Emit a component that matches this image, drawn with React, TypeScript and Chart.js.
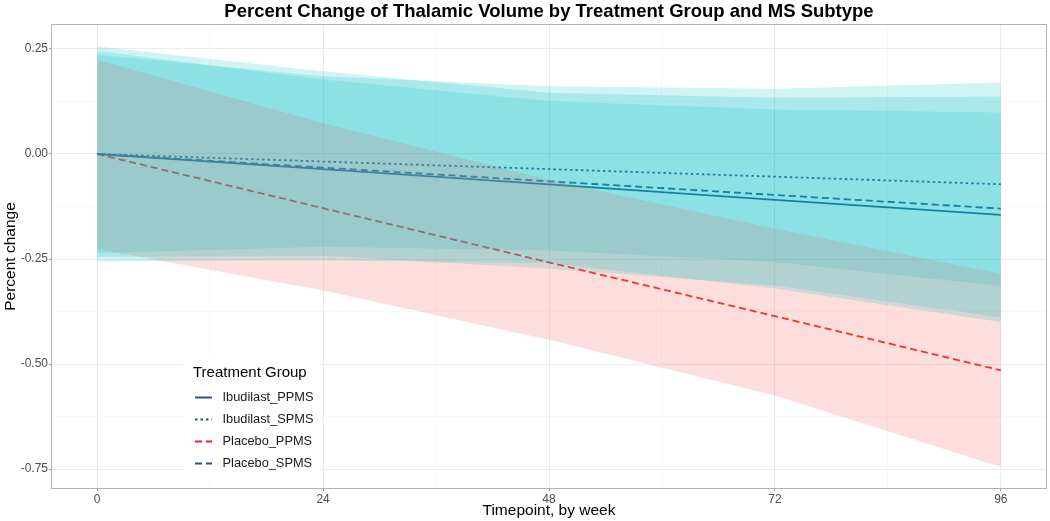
import React, { useEffect, useRef } from 'react';
import { Chart, registerables } from 'chart.js';
Chart.register(...registerables);

// ---- data ----
const weeks = [0, 24, 48, 72, 96];
const seriesNames = ['Ibudilast_PPMS', 'Ibudilast_SPMS', 'Placebo_PPMS', 'Placebo_SPMS'];

const ibuPPMS = [0, -0.036, -0.0725, -0.109, -0.145];
const ibuSPMS = [0, -0.018, -0.036, -0.054, -0.072];
const plaPPMS = [0, -0.129, -0.258, -0.386, -0.515];
const plaSPMS = [0, -0.0325, -0.065, -0.0975, -0.13];

const ibuPPMSLow = [-0.245, -0.242, -0.273, -0.313, -0.389];
const ibuPPMSHigh = [0.245, 0.177, 0.126, 0.106, 0.099];
const ibuSPMSLow = [-0.236, -0.221, -0.23, -0.257, -0.314];
const ibuSPMSHigh = [0.236, 0.185, 0.161, 0.155, 0.17];
const plaPPMSLow = [-0.226, -0.325, -0.442, -0.575, -0.745];
const plaPPMSHigh = [0.224, 0.073, -0.062, -0.178, -0.285];
const plaSPMSLow = [-0.256, -0.253, -0.26, -0.32, -0.4];
const plaSPMSHigh = [0.256, 0.197, 0.146, 0.134, 0.137];

const xMajorTicks = [0, 24, 48, 72, 96];
const xGridTicks = [0, 12, 24, 36, 48, 60, 72, 84, 96];
const yMajorTicks = [0.25, 0, -0.25, -0.5, -0.75];
const yGridTicks = [0.25, 0.125, 0, -0.125, -0.25, -0.375, -0.5, -0.625, -0.75];

const title = 'Percent Change of Thalamic Volume by Treatment Group and MS Subtype';
const xTitle = 'Timepoint, by week';
const yTitle = 'Percent change';
const legendTitle = 'Treatment Group';

const BLUE = '#2a4d8c';
const RED = '#f21d1d';
const TEAL_FILL = 'rgba(0,188,194,0.185)';
const PINK_FILL = 'rgba(248,118,109,0.24)';
const FONT = '"Liberation Sans", Arial, Helvetica, sans-serif';

const lineStyles = [
  { color: BLUE, dash: [] as number[] },
  { color: BLUE, dash: [2.5, 3] },
  { color: RED, dash: [7, 4] },
  { color: BLUE, dash: [7, 4] },
];

const pts = (ys: number[]) => weeks.map((w, i) => ({ x: w, y: ys[i] }));

function ribbon(low: number[], high: number[], fill: string) {
  return [
    { data: pts(low), borderWidth: 0, pointRadius: 0, fill: false, backgroundColor: 'rgba(0,0,0,0)', borderColor: 'rgba(0,0,0,0)' },
    { data: pts(high), borderWidth: 0, pointRadius: 0, fill: '-1', backgroundColor: fill, borderColor: 'rgba(0,0,0,0)' },
  ];
}

const decoPlugin = {
  id: 'deco',
  afterDraw(chart: any) {
    const ctx = chart.ctx;
    const a = chart.chartArea;
    ctx.save();
    // panel border
    ctx.strokeStyle = '#b3b3b3';
    ctx.lineWidth = 1;
    ctx.strokeRect(a.left - 0.5, a.top - 0.5, a.right - a.left + 1, a.bottom - a.top + 1);
    // title
    ctx.fillStyle = '#000';
    ctx.textAlign = 'center';
    ctx.textBaseline = 'middle';
    ctx.font = `bold 18.5px ${FONT}`;
    ctx.fillText(title, (a.left + a.right) / 2, 12);
    // x title
    ctx.font = `15.5px ${FONT}`;
    ctx.fillText(xTitle, (a.left + a.right) / 2, 511);
    // y title
    ctx.save();
    ctx.translate(11, (a.top + a.bottom) / 2);
    ctx.rotate(-Math.PI / 2);
    ctx.fillText(yTitle, 0, 0);
    ctx.restore();
    // legend
    ctx.fillStyle = '#fff';
    ctx.fillRect(183, 356, 138, 122);
    ctx.fillStyle = '#000';
    ctx.textAlign = 'left';
    ctx.font = `15px ${FONT}`;
    ctx.fillText(legendTitle, 193, 372.5);
    ctx.font = `12.8px ${FONT}`;
    seriesNames.forEach((name, i) => {
      const y = 397.5 + i * 22;
      const st = lineStyles[i];
      ctx.strokeStyle = st.color;
      ctx.lineWidth = 2;
      ctx.setLineDash(st.dash);
      ctx.beginPath();
      ctx.moveTo(195, y);
      ctx.lineTo(212, y);
      ctx.stroke();
      ctx.setLineDash([]);
      ctx.fillStyle = '#1a1a1a';
      ctx.fillText(name, 222.5, y);
    });
    ctx.restore();
  },
};

export default function App() {
  const ref = useRef<HTMLCanvasElement | null>(null);
  useEffect(() => {
    if (!ref.current) return;
    const lines = [ibuPPMS, ibuSPMS, plaPPMS, plaSPMS].map((s, i) => ({
      data: pts(s),
      borderColor: lineStyles[i].color,
      borderDash: lineStyles[i].dash,
      borderWidth: 1.8,
      pointRadius: 0,
      fill: false,
      order: 10,
    }));
    const datasets: any[] = [
      ...ribbon(plaSPMSLow, plaSPMSHigh, TEAL_FILL),
      ...ribbon(plaPPMSLow, plaPPMSHigh, PINK_FILL),
      ...ribbon(ibuSPMSLow, ibuSPMSHigh, TEAL_FILL),
      ...ribbon(ibuPPMSLow, ibuPPMSHigh, TEAL_FILL),
      ...lines,
    ];
    const chart = new Chart(ref.current, {
      type: 'line',
      data: { datasets },
      plugins: [decoPlugin],
      options: {
        animation: false,
        responsive: false,
        events: [],
        layout: { padding: { top: 25, right: 4, left: 0, bottom: 0 } },
        plugins: { legend: { display: false }, tooltip: { enabled: false }, title: { display: false } },
        scales: {
          x: {
            type: 'linear',
            min: -4.8,
            max: 100.8,
            afterBuildTicks: (s: any) => { s.ticks = xGridTicks.map((v) => ({ value: v })); },
            afterFit: (s: any) => { s.height = 33; },
            border: { display: false },
            grid: {
              color: (c: any) => (xMajorTicks.includes(c.tick?.value) ? '#ebebeb' : '#f4f4f4'),
              lineWidth: (c: any) => (xMajorTicks.includes(c.tick?.value) ? 1 : 0.6),
              tickColor: (c: any) => (xMajorTicks.includes(c.tick?.value) ? '#9a9a9a' : 'rgba(0,0,0,0)'),
              tickLength: 3,
            },
            ticks: {
              autoSkip: false,
              maxRotation: 0,
              padding: 1,
              color: '#4d4d4d',
              font: { family: FONT, size: 12 },
              callback: (v: any) => (xMajorTicks.includes(v) ? String(v) : ''),
            },
          },
          y: {
            type: 'linear',
            min: -0.795,
            max: 0.307,
            afterBuildTicks: (s: any) => { s.ticks = yGridTicks.map((v) => ({ value: v })); },
            afterFit: (s: any) => { s.width = 52; },
            border: { display: false },
            grid: {
              color: (c: any) => (yMajorTicks.includes(c.tick?.value) ? '#ebebeb' : '#f4f4f4'),
              lineWidth: (c: any) => (yMajorTicks.includes(c.tick?.value) ? 1 : 0.6),
              tickColor: (c: any) => (yMajorTicks.includes(c.tick?.value) ? '#9a9a9a' : 'rgba(0,0,0,0)'),
              tickLength: 3,
            },
            ticks: {
              autoSkip: false,
              padding: 1,
              color: '#4d4d4d',
              font: { family: FONT, size: 12 },
              callback: (v: any) => (yMajorTicks.includes(v) ? Number(v).toFixed(2) : ''),
            },
          },
        },
      },
    });
    return () => chart.destroy();
  }, []);
  return (
    <div style={{ position: 'absolute', left: 0, top: 0, width: 1050, height: 521, background: '#fff' }}>
      <canvas ref={ref} width={1050} height={521} style={{ display: 'block' }} />
    </div>
  );
}
